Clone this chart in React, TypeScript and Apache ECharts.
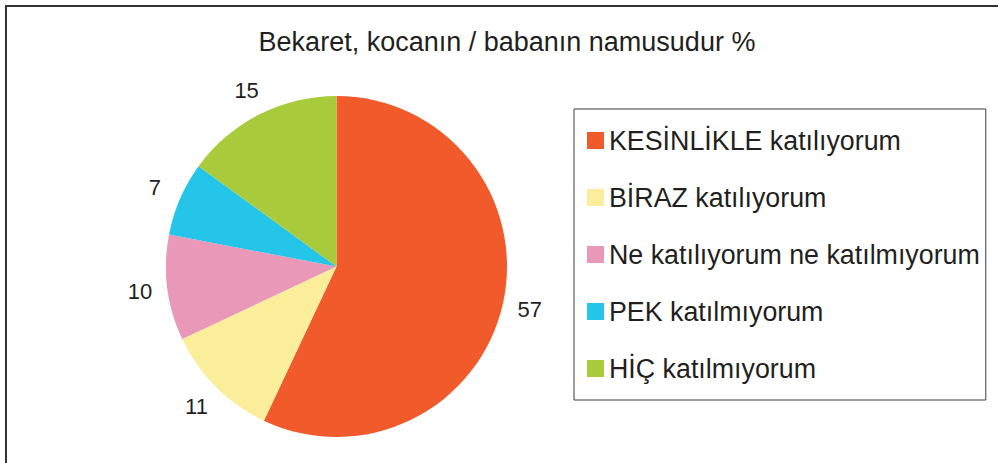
import React, { useEffect, useRef } from "react";
import * as echarts from "echarts";

const titleText = "Bekaret, kocanın / babanın namusudur %";
const categories = [
  "KESİNLİKLE katılıyorum",
  "BİRAZ katılıyorum",
  "Ne katılıyorum ne katılmıyorum",
  "PEK katılmıyorum",
  "HİÇ katılmıyorum",
];
const values = [57, 11, 10, 7, 15];
const colors = ["#F15A2A", "#FBEE9B", "#EA98B7", "#25C4E9", "#A9CB3B"];

const FONT = "'Liberation Sans', Arial, Helvetica, sans-serif";
const TEXT = "#231F20";

export default function App() {
  const ref = useRef<HTMLDivElement>(null);
  useEffect(() => {
    document.body.style.margin = "0";
    if (!ref.current) return;
    const chart = echarts.init(ref.current, undefined, { renderer: "svg" });
    const data = categories.map((name, i) => ({
      name,
      value: values[i],
      itemStyle: { color: colors[i] },
    }));
    const labelData = categories.map((name, i) => ({
      name,
      value: values[i],
    }));
    chart.setOption({
      animation: false,
      backgroundColor: "#ffffff",
      color: colors,
      graphic: [
        {
          type: "rect",
          shape: { x: 6, y: 6, width: 1100, height: 600 },
          style: { fill: "none", stroke: "#333333", lineWidth: 2 },
          silent: true,
          z: 0,
        },
        {
          type: "text",
          x: 507,
          y: 42,
          style: {
            text: titleText,
            fontSize: 27,
            fontFamily: FONT,
            fill: TEXT,
            align: "center",
            verticalAlign: "middle",
          },
        },
      ],
      legend: {
        orient: "vertical",
        left: 574,
        top: 109,
        icon: "rect",
        itemWidth: 17,
        itemHeight: 17,
        itemGap: 30,
        padding: [18, 6, 18, 13],
        borderColor: "#3a3a3a",
        borderWidth: 1,
        selectedMode: false,
        textStyle: { fontSize: 26.8, fontFamily: FONT, color: TEXT },
        data: categories,
      },
      series: [
        {
          type: "pie",
          name: "main",
          center: [336.5, 266.5],
          radius: [0, 170.5],
          startAngle: 90,
          clockwise: true,
          avoidLabelOverlap: false,
          label: { show: false },
          labelLine: { show: false },
          itemStyle: { borderWidth: 0 },
          emphasis: { disabled: true },
          data,
        },
        {
          type: "pie",
          name: "labels",
          center: [336.5, 266.5],
          radius: [184, 206],
          startAngle: 90,
          clockwise: true,
          silent: true,
          avoidLabelOverlap: false,
          legendHoverLink: false,
          itemStyle: { color: "rgba(0,0,0,0)", borderWidth: 0 },
          label: {
            show: true,
            position: "inside",
            rotate: 0,
            formatter: "{c}",
            fontSize: 22,
            fontFamily: FONT,
            color: TEXT,
          },
          labelLine: { show: false },
          emphasis: { disabled: true },
          data: labelData,
        },
      ],
    });
    return () => chart.dispose();
  }, []);
  return <div ref={ref} style={{ width: 998, height: 463 }} />;
}
